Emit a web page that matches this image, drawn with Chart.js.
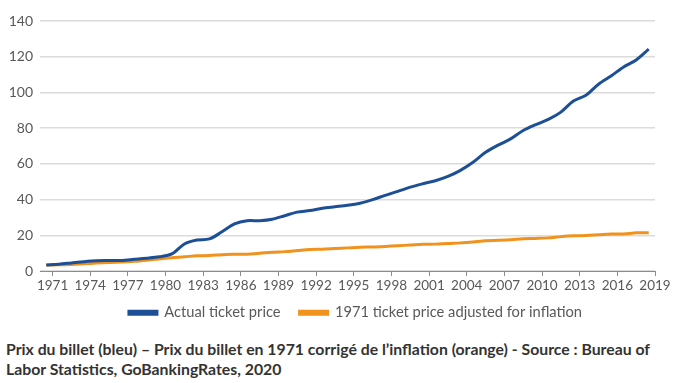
<!DOCTYPE html>
<html>
<head>
<meta charset="utf-8">
<script src="https://cdn.jsdelivr.net/npm/chart.js@4"></script>
<style>
  body { margin: 0; background: #fff; }
  #wrap { position: relative; width: 680px; height: 338px; }
  #caption {
    position: absolute; left: 6px; top: 339px; width: 660px;
    font-family: Lato, "Open Sans", sans-serif; font-weight: bold;
    font-size: 15.8px; line-height: 20px; color: #333;
  }
</style>
</head>
<body>
<div id="wrap"><canvas id="chart"></canvas></div>
<div id="caption">Prix du billet (bleu) – Prix du billet en 1971 corrigé de l’inflation (orange) - Source : Bureau of<br>Labor Statistics, GoBankingRates, 2020</div>
<script>
// --- Data ---
const years = [1971, 1972, 1973, 1974, 1975, 1976, 1977, 1978, 1979, 1980,
    1981, 1982, 1983, 1984, 1985, 1986, 1987, 1988, 1989, 1990,
    1991, 1992, 1993, 1994, 1995, 1996, 1997, 1998, 1999, 2000,
    2001, 2002, 2003, 2004, 2005, 2006, 2007, 2008, 2009, 2010,
    2011, 2012, 2013, 2014, 2015, 2016, 2017, 2018, 2019];

const actualPrice = [3.4, 3.9, 4.6, 5.3, 5.8, 5.9, 6.0, 6.6, 7.2, 8.0,
    9.6, 15.2, 17.4, 18.0, 22.0, 26.4, 28.2, 28.2, 29.0, 31.0,
    33.0, 33.9, 35.2, 36.0, 36.8, 38.0, 40.0, 42.4, 44.6, 47.0,
    48.9, 50.6, 53.0, 56.4, 60.9, 66.5, 70.5, 74.0, 78.7, 82.0,
    84.9, 89.0, 95.2, 98.4, 104.6, 109.2, 114.3, 118.2, 124.2];

const adjustedPrice = [3.4, 3.5, 3.7, 4.1, 4.5, 4.8, 5.1, 5.5, 6.1, 6.8,
    7.5, 8.0, 8.6, 8.7, 9.2, 9.4, 9.5, 10.0, 10.6, 10.9,
    11.5, 12.1, 12.2, 12.6, 13.0, 13.4, 13.5, 13.8, 14.2, 14.6,
    15.0, 15.1, 15.5, 15.8, 16.3, 17.0, 17.2, 17.5, 18.1, 18.3,
    18.6, 19.3, 19.8, 19.9, 20.3, 20.7, 20.8, 21.4, 21.5];

const xTickLabels = [1971, 1974, 1977, 1980, 1983, 1986, 1989, 1992, 1995, 1998,
    2001, 2004, 2007, 2010, 2013, 2016, 2019];
const yTicks = [0, 20, 40, 60, 80, 100, 120, 140];

// --- Chart ---
const FONT = 'Lato, "Open Sans", sans-serif';
const GREY_TXT = '#595959';

// each yearly point sits half a year before its labelled tick (as in the source)
const toPoints = (vals) => vals.map((v, i) => ({ x: years[i] - 0.5, y: v }));

// the source legend sits a bit right of the canvas centre
const legendNudge = {
    id: 'legendNudge',
    afterLayout(chart) {
        const lg = chart.legend;
        const dx = 28, dy = -8;
        lg.left += dx; lg.right += dx;
        lg.top += dy; lg.bottom += dy;
    }
};

new Chart(document.getElementById('chart'), {
    type: 'line',
    data: {
        datasets: [{
            label: 'Actual ticket price',
            data: toPoints(actualPrice),
            borderColor: '#1c4f95',
            backgroundColor: '#1c4f95',
            borderWidth: 3,
            pointRadius: 0,
            tension: 0.3
        }, {
            label: '1971 ticket price adjusted for inflation',
            data: toPoints(adjustedPrice),
            borderColor: '#f0921c',
            backgroundColor: '#f0921c',
            borderWidth: 3,
            pointRadius: 0,
            tension: 0.3
        }]
    },
    options: {
        responsive: true,
        maintainAspectRatio: false,
        animation: false,
        layout: { padding: { top: 21, right: 25, left: 0, bottom: 0 } },
        scales: {
            x: {
                type: 'linear',
                min: 1970,
                max: 2019,
                afterBuildTicks: (scale) => {
                    scale.ticks = xTickLabels.map(v => ({ value: v }));
                },
                grid: {
                    drawOnChartArea: false,
                    drawTicks: true,
                    tickLength: 5,
                    color: '#8c8c8c'
                },
                border: { display: true, color: '#8c8c8c', width: 1 },
                ticks: {
                    color: GREY_TXT,
                    font: { family: FONT, size: 13.5 },
                    padding: 1,
                    maxRotation: 0,
                    autoSkip: false,
                    callback: (v) => String(v)
                }
            },
            y: {
                min: 0,
                max: 140,
                afterBuildTicks: (scale) => {
                    scale.ticks = yTicks.map(v => ({ value: v }));
                },
                afterFit: (scale) => { scale.width = 40; },
                grid: { color: '#dcdcdc', drawTicks: false, lineWidth: 1.5 },
                border: { display: false },
                ticks: {
                    color: GREY_TXT,
                    font: { family: FONT, size: 14 },
                    padding: 7
                }
            }
        },
        plugins: {
            legend: {
                position: 'bottom',
                labels: {
                    color: GREY_TXT,
                    font: { family: FONT, size: 14.7 },
                    boxWidth: 28,
                    boxHeight: 3,
                    padding: 19
                }
            },
            tooltip: { enabled: false }
        }
    },
    plugins: [legendNudge]
});
</script>
</body>
</html>
